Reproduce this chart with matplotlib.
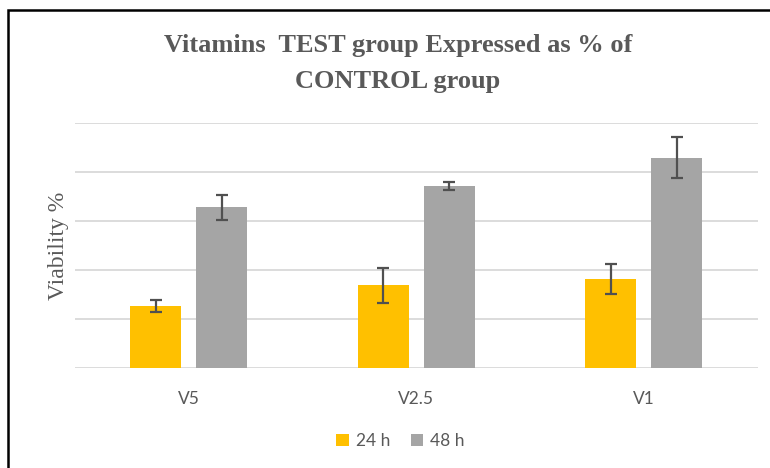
import numpy as np
from matplotlib import pyplot as plt
from matplotlib.patches import Rectangle

# 数据 (纵轴无刻度标签, 以网格间隔为单位)
categories = ["V5", "V2.5", "V1"]
series_names = ["24 h", "48 h"]
vals_24h = [1.26, 1.68, 1.81]
err_24h = [0.12, 0.36, 0.30]
vals_48h = [3.28, 3.72, 4.30]
err_48h = [0.25, 0.08, 0.41]

col_24 = "#FFC000"
col_48 = "#A5A5A5"
txt_col = "#595959"

fig = plt.figure(figsize=(7.7, 4.68), dpi=100)
ax = fig.add_axes([0.097, 0.2147, 0.887, 0.5218])

x = np.arange(len(categories))
w = 0.224
b1 = ax.bar(x - 0.145, vals_24h, w, color=col_24, label=series_names[0], zorder=2)
b2 = ax.bar(x + 0.145, vals_48h, w, color=col_48, label=series_names[1], zorder=2)
ax.errorbar(x - 0.145, vals_24h, yerr=err_24h, fmt="none", ecolor="#505050",
            elinewidth=1.6, capsize=4.5, capthick=1.6, zorder=3)
ax.errorbar(x + 0.145, vals_48h, yerr=err_48h, fmt="none", ecolor="#505050",
            elinewidth=1.6, capsize=4.5, capthick=1.6, zorder=3)

ax.set_xlim(-0.5, 2.5)
ax.set_ylim(0, 5)
for yv in range(0, 6):
    ax.axhline(yv, color="#d9d9d9", lw=1.3, zorder=1)
for s in ax.spines.values():
    s.set_visible(False)
ax.set_yticks([])
ax.set_xticks(x)
ax.set_xticklabels(categories, fontfamily="Lato", fontsize=12.5, color=txt_col)
ax.tick_params(axis="x", length=0, pad=17)

ax.set_ylabel("Viability %", fontfamily="Liberation Serif", fontsize=17,
              color=txt_col, labelpad=4)

fig.text(0.517, 0.864, "Vitamins  TEST group Expressed as % of\nCONTROL group",
         ha="center", va="center", fontfamily="Liberation Serif", fontsize=19,
         fontweight="bold", color=txt_col, linespacing=1.7)

fig.legend(handles=[b1, b2], labels=series_names, loc="center",
           bbox_to_anchor=(0.52, 0.058), ncol=2, frameon=False,
           prop={"family": "Lato", "size": 12.5}, labelcolor=txt_col,
           handlelength=0.7, handleheight=0.7, handletextpad=0.4, columnspacing=1.2)

# 外框
fig.patches.append(Rectangle((8 / 770, -0.05), 1.1, 1 - 10 / 468 + 0.05,
                             transform=fig.transFigure, fill=False,
                             edgecolor="black", lw=1.8))

fig.savefig("out.png", dpi=100)
